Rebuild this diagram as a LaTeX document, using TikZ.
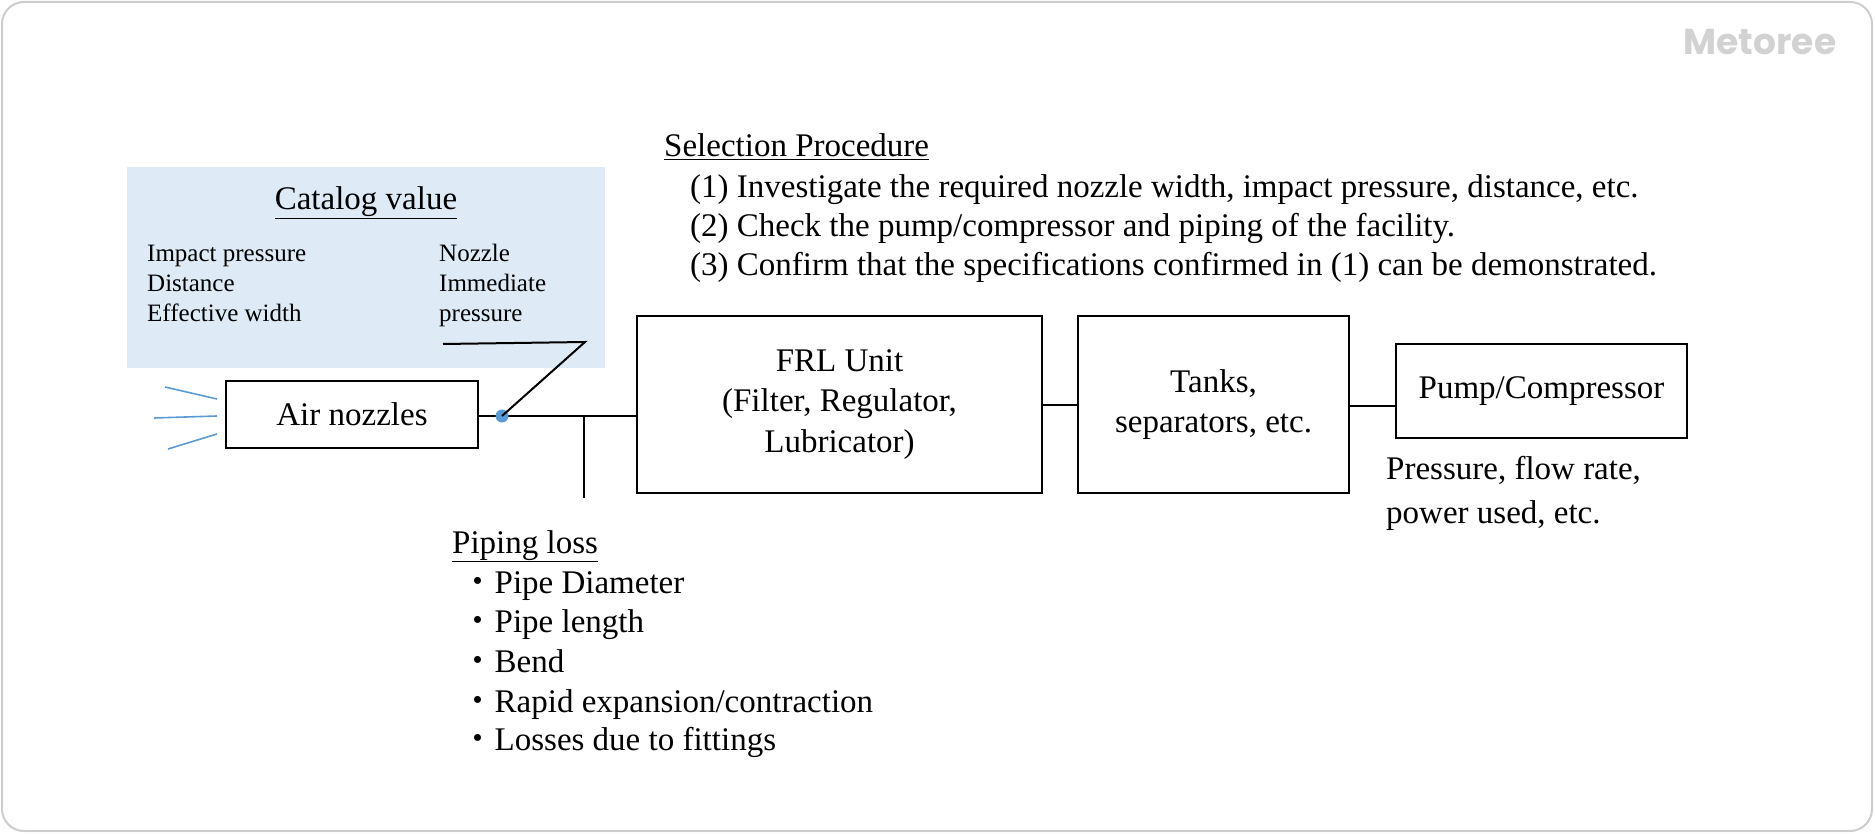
\documentclass[tikz,border=0pt]{standalone}
\usepackage{fontspec}
\setmainfont{Liberation Serif}
\newfontfamily\cjk{Noto Sans CJK JP}
\newfontfamily\logofont{Poppins}
\definecolor{catblue}{RGB}{222,234,246}
\definecolor{dotblue}{RGB}{91,155,213}
\definecolor{framegray}{RGB}{205,205,205}
\definecolor{logogray}{RGB}{210,210,210}
\newcommand\fsz[2]{\fontsize{#1}{#2}\selectfont}
\newcommand\bul{{\cjk ・}}
\tikzset{
  box/.style={draw, line width=2pt, inner sep=0pt, align=center, font=\fsz{33}{40.5}},
  lab/.style={inner sep=0pt, anchor=base west, font=\fsz{33}{40}},
  small/.style={inner sep=0pt, anchor=base west, font=\fsz{25}{30}},
  pipe/.style={line width=2pt},
  ray/.style={draw=dotblue, line width=1.6pt}
}
\begin{document}
\begin{tikzpicture}[x=1pt,y=-1pt]
\useasboundingbox (0,0) rectangle (1875,834);
% outer frame
\draw[framegray, line width=2pt, rounded corners=22pt, fill=white] (2,2) rectangle (1872,831);
\node[inner sep=0pt, anchor=base, text=logogray, font=\logofont\bfseries\fsz{36}{40}] (logo) at (1760,55) {Metoree};
% catalog box
\fill[catblue] (127,167) rectangle (605,368);
\node[inner sep=0pt, anchor=base, font=\fsz{33}{40}] (cattitle) at (366,210) {\underline{Catalog value}};
\node[small] (c1) at (147,262) {Impact pressure};
\node[small] (c2) at (147,292) {Distance};
\node[small] (c3) at (147,322) {Effective width};
\node[small] (n1) at (439,262) {Nozzle};
\node[small] (n2) at (439,292) {Immediate};
\node[small] (n3) at (439,322) {pressure};
% boxes
\node[box, minimum width=252pt, minimum height=67pt] (nozzle) at (352,414.5) {Air nozzles};
\node[box, minimum width=405pt, minimum height=177pt] (frl) at (839.5,404.5) {FRL Unit\\(Filter, Regulator,\\Lubricator)};
\node[box, minimum width=271pt, minimum height=177pt] (tanks) at (1213.5,404.5) {Tanks,\\separators, etc.};
\node[box, minimum width=291pt, minimum height=94pt] (pump) at (1541.5,391) {Pump/Compressor};
% connectors
\coordinate (main) at (478,415.5);
\draw[pipe] (main) -- (main -| frl.west);
\coordinate (br) at (584,415.5);
\coordinate (brend) at (584,498);
\draw[pipe] (br) -- (brend);
\draw[pipe] (frl.east) -- (tanks.west);
\coordinate (tp) at (1349,406);
\draw[pipe] (tp) -- (tp -| pump.west);
% leader to dot
\node[circle, fill=dotblue, inner sep=0pt, minimum size=13pt] (dot) at (502,416) {};
\coordinate (l1) at (443,344);
\coordinate (l2) at (585,342);
\draw[line width=2pt] (l1) -- (l2) -- (dot.center);
% rays
\coordinate (r1a) at (165,387); \coordinate (r1b) at (217,399);
\coordinate (r2a) at (154,418); \coordinate (r2b) at (217,416);
\coordinate (r3a) at (168,449); \coordinate (r3b) at (217,434);
\draw[ray] (r1a) -- (r1b);
\draw[ray] (r2a) -- (r2b);
\draw[ray] (r3a) -- (r3b);
% selection procedure
\node[lab] (sel) at (664,157) {\underline{Selection Procedure}};
\node[lab] (s1) at (690,198) {(1) Investigate the required nozzle width, impact pressure, distance, etc.};
\node[lab] (s2) at (690,237) {(2) Check the pump/compressor and piping of the facility.};
\node[lab] (s3) at (690,276) {(3) Confirm that the specifications confirmed in (1) can be demonstrated.};
% piping loss
\node[lab] (pl) at (452,553) {\underline{Piping loss}};
\node[lab] (p1) at (461.5,593) {\bul Pipe Diameter};
\node[lab] (p2) at (461.5,632) {\bul Pipe length};
\node[lab] (p3) at (461.5,672) {\bul Bend};
\node[lab] (p4) at (461.5,712) {\bul Rapid expansion/contraction};
\node[lab] (p5) at (461.5,750) {\bul Losses due to fittings};
% pump notes
\node[lab] (pr1) at (1386,479) {Pressure, flow rate,};
\node[lab] (pr2) at (1386,523) {power used, etc.};
\end{tikzpicture}
\end{document}
